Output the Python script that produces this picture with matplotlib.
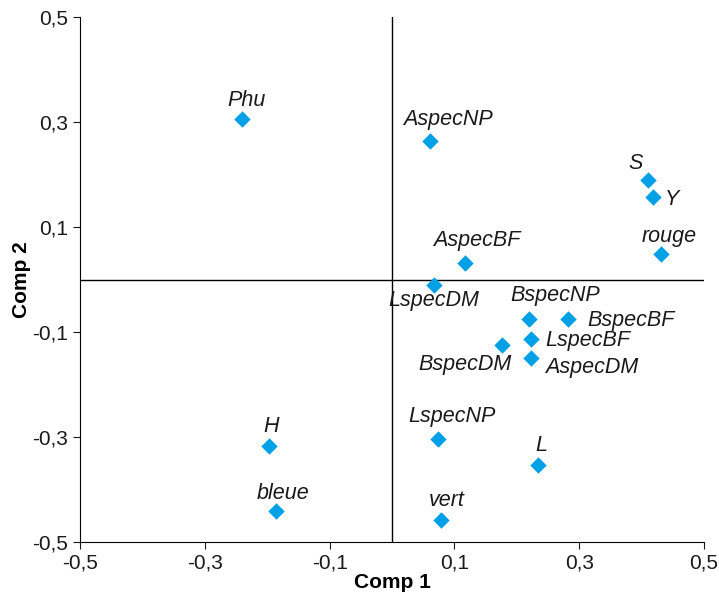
import matplotlib
matplotlib.use("Agg")
import matplotlib.pyplot as plt

plt.rcParams['font.family'] = ['Liberation Sans', 'DejaVu Sans']

# donnees
noms = ["Phu", "AspecNP", "S", "Y", "rouge", "AspecBF", "LspecDM", "BspecNP",
        "BspecBF", "LspecBF", "BspecDM", "AspecDM", "LspecNP", "L", "vert",
        "H", "bleue"]
comp1 = [-0.240, 0.061, 0.410, 0.418, 0.431, 0.117, 0.067, 0.220,
         0.282, 0.223, 0.176, 0.223, 0.074, 0.234, 0.079, -0.197, -0.186]
comp2 = [0.306, 0.264, 0.190, 0.157, 0.049, 0.031, -0.010, -0.075,
         -0.075, -0.113, -0.125, -0.150, -0.304, -0.353, -0.458, -0.317, -0.441]
ticks = [-0.5, -0.3, -0.1, 0.1, 0.3, 0.5]
tick_txt = ["-0,5", "-0,3", "-0,1", "0,1", "0,3", "0,5"]

# decalage des etiquettes (pixels) et alignement
decal = {
    "Phu": (4, 18, "center"), "AspecNP": (18, 21, "center"), "S": (-12, 16, "center"),
    "Y": (12, -2, "left"), "rouge": (8, 17, "center"), "AspecBF": (12, 23, "center"),
    "LspecDM": (0, -16, "center"), "BspecNP": (26, 23, "center"),
    "BspecBF": (19, -2, "left"), "LspecBF": (14, -2, "left"),
    "BspecDM": (10, -19, "right"), "AspecDM": (14, -9, "left"),
    "LspecNP": (14, 23, "center"), "L": (3, 19, "center"), "vert": (5, 19, "center"),
    "H": (2, 19, "center"), "bleue": (7, 18, "center"),
}

fig = plt.figure(figsize=(7.19, 5.96), dpi=100)
ax = fig.add_axes([80/719, 1-542/596, 624/719, 525/596])

ax.axhline(0, color="black", lw=1)
ax.axvline(0, color="black", lw=1)
ax.scatter(comp1, comp2, marker="D", s=70, color="#00a0e6", zorder=3, linewidths=0)

for n, x, y in zip(noms, comp1, comp2):
    dx, dy, ha = decal[n]
    ax.annotate(n, (x, y), xytext=(dx, dy), textcoords="offset pixels",
                ha=ha, va="center", fontsize=15.5, style="italic", color="#1a1a1a")

ax.set_xlim(-0.5, 0.5)
ax.set_ylim(-0.5, 0.5)
ax.set_xticks(ticks)
ax.set_xticklabels(tick_txt)
ax.set_yticks(ticks)
ax.set_yticklabels(tick_txt)
ax.tick_params(direction="out", length=5, labelsize=15, colors="#1a1a1a")
ax.spines["top"].set_visible(False)
ax.spines["right"].set_visible(False)
ax.set_xlabel("Comp 1", fontsize=15, fontweight="bold", labelpad=0)
ax.set_ylabel("Comp 2", fontsize=15, fontweight="bold", labelpad=1)

plt.savefig("out.png", dpi=100)
